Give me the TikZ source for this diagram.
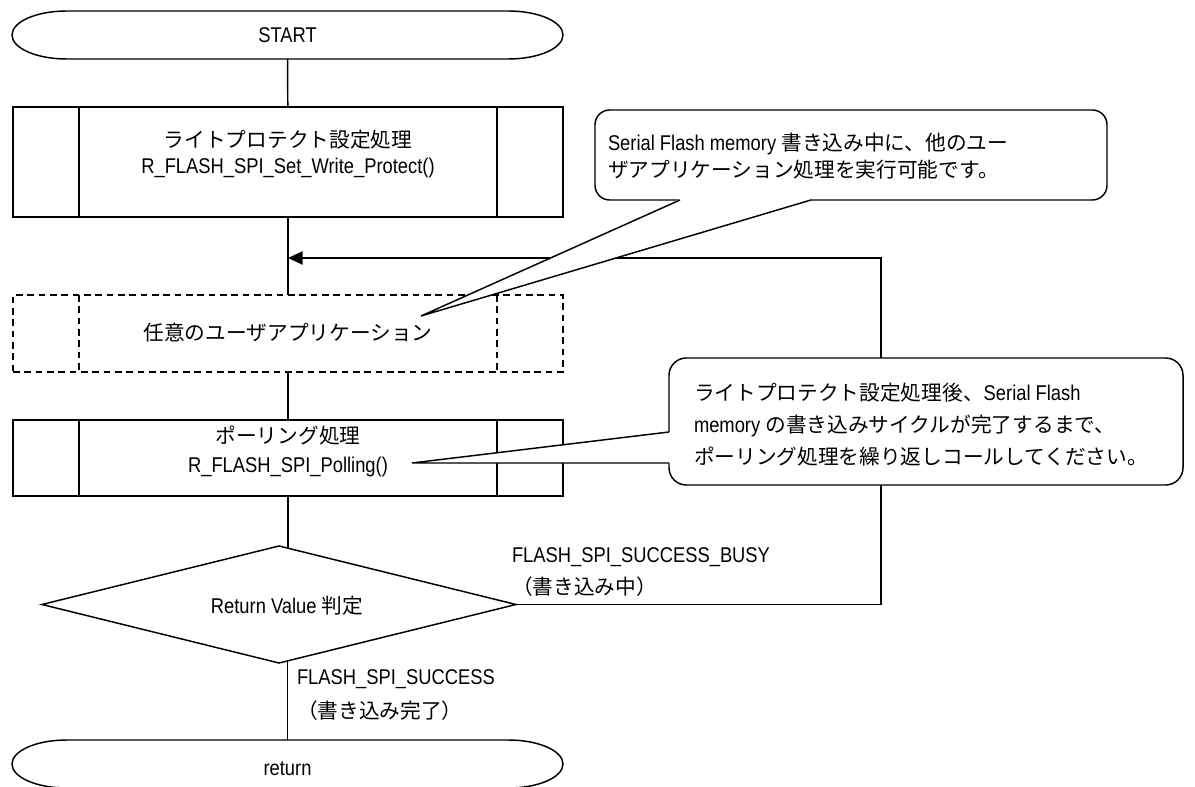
\documentclass[tikz,border=0pt]{standalone}
\usepackage{fontspec}
\setmainfont{Liberation Sans}[FakeStretch=0.86]
\newfontfamily\jp{Noto Sans CJK JP}[Scale=0.97]
\usetikzlibrary{arrows.meta,shapes.geometric}
\newcommand\J[1]{{\jp #1}}
\begin{document}
\begin{tikzpicture}[x=0.75pt,y=-0.75pt,line width=1.1pt,
  every node/.style={font=\fontsize{16}{19.5}\selectfont,inner sep=0pt,outer sep=0pt},
  term/.style={minimum width=413.25pt,minimum height=36pt},
  procbox/.style={draw,minimum width=412.5pt},
  bubble/.style={draw,fill=white,rounded corners=11pt},
  dsh/.style={dash pattern=on 5pt off 3.5pt},
  txt/.style={align=center},
  ltxt/.style={align=left,anchor=west}]
\useasboundingbox (0,0) rectangle (1195,787);
\newcommand\termshape[1]{%
  \draw ([xshift=41pt]#1.north west) -- ([xshift=-41pt]#1.north east)
    arc[start angle=90,end angle=-90,x radius=41pt,y radius=18pt]
    -- ([xshift=41pt]#1.south west)
    arc[start angle=270,end angle=90,x radius=41pt,y radius=18pt] -- cycle;}
\newcommand\innerlines[2][]{%
  \draw[#1] ([xshift=49.5pt]#2.north west) -- ([xshift=49.5pt]#2.south west);
  \draw[#1] ([xshift=-49.5pt]#2.north east) -- ([xshift=-49.5pt]#2.south east);}

% START
\node[term] (st) at (287.5,35) {};
\termshape{st}
\node[txt] (sttxt) at (287.5,35) {START};

% box 1
\node[procbox,minimum height=82.5pt] (b1) at (288,162) {};
\innerlines{b1}
\node[txt,font=\fontsize{16}{19.5}\selectfont] (b1t) at (288,154) {\J{ライトプロテクト設定処理}\\R\_FLASH\_SPI\_Set\_Write\_Protect()};

% dashed box
\node[procbox,dsh,minimum height=57.75pt] (b2) at (288,333.5) {};
\innerlines[dsh]{b2}
\node[txt] (b2t) at (288,333) {\J{任意のユーザアプリケーション}};

% box 3
\node[procbox,minimum height=57pt] (b3) at (288,458) {};
\innerlines{b3}
\node[txt,font=\fontsize{16}{22}\selectfont] (b3t) at (288,451.5) {\J{ポーリング処理}\\R\_FLASH\_SPI\_Polling()};

% decision
\node[diamond,draw,minimum width=355.5pt,minimum height=87.75pt,aspect=4] (dia) at (279,604.5) {};
\node[txt] (diat) at (287,606) {Return Value \J{判定}};

% return
\node[term] (ret) at (287.5,764) {};
\termshape{ret}
\node[txt] (rett) at (287.5,769) {return};

% connectors
\coordinate (join) at (288,258);
\coordinate (loopc) at (881,258);
\draw (st) -- (b1);
\draw (b1) -- (b2);
\draw (b2) -- (b3);
\draw (b3.south) -- ([yshift=-2pt]b3.south |- dia.north);
\draw ([yshift=2pt]ret.north |- dia.south) -- (ret.north);
\draw[-{Triangle[length=11pt,width=10pt]}] (dia.east) -| (loopc) -- (join);

% labels
\node[ltxt,font=\fontsize{16}{24}\selectfont] (lbusy) at (512,572) {FLASH\_SPI\_SUCCESS\_BUSY\\\J{（書き込み中）}};
\node[ltxt,font=\fontsize{16}{25}\selectfont] (lsucc) at (297,695) {FLASH\_SPI\_SUCCESS\\\J{（書き込み完了）}};

% callout 1
\node[bubble,minimum width=384pt,minimum height=67.5pt] (c1) at (851,155) {};
\coordinate (c1tip) at (421,316);
\fill[white] (680,199) -- (c1tip) -- (811,199) -- cycle;
\fill[white] (681.5,197.5) rectangle (809.5,202.5);
\draw (680,200) -- (c1tip) -- (811,200);
\node[ltxt,font=\fontsize{16}{20.25}\selectfont] (c1t) at (608,156.5) {Serial Flash memory \J{書き込み中に、他のユー}\\\J{ザアプリケーション処理を実行可能です。}};

% callout 2
\node[bubble,minimum width=385.5pt,minimum height=95.25pt,rounded corners=13pt] (c2) at (926,421.5) {};
\coordinate (c2tip) at (412,463);
\fill[white] (670,432) -- (c2tip) -- (670,463) -- cycle;
\fill[white] (667.5,433.5) rectangle (671,461.5);
\draw (669,432) -- (c2tip) -- (669,463);
\node[ltxt,font=\fontsize{16}{24}\selectfont] (c2t) at (694,425) {\J{ライトプロテクト設定処理後、}Serial Flash\\memory \J{の書き込みサイクルが完了するまで、}\\\J{ポーリング処理を繰り返しコールしてください。}};
\end{tikzpicture}
\end{document}
